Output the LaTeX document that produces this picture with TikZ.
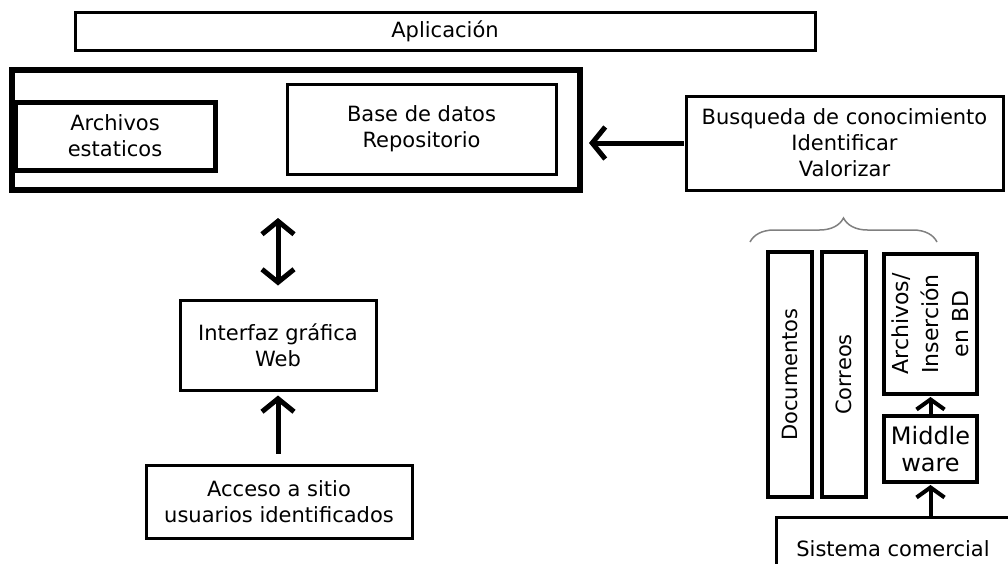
\documentclass[tikz,border=0pt]{standalone}
\usepackage{fontspec}
\setmainfont{DejaVu Sans}
\usetikzlibrary{arrows.meta,decorations.pathreplacing,calc}

\begin{document}
\begin{tikzpicture}[x=1pt,y=-1pt,
  every node/.style={align=center,inner sep=0pt,font=\fontsize{21}{26}\selectfont},
  box/.style={draw,line width=3pt},
  arr/.style={line width=5pt,-{Straight Barb[length=13pt,width=32pt]}},
  dblarr/.style={line width=5pt,{Straight Barb[length=13pt,width=32pt]}-{Straight Barb[length=13pt,width=32pt]}},
  smallarr/.style={line width=4pt,-{Straight Barb[length=10pt,width=28pt]}}]
  \useasboundingbox (0,0) rectangle (1008,563);
  \clip (0,0) rectangle (1008,563);
  % servidor
  \path (445,31) node[box,minimum width=740pt,minimum height=38pt] (app) {Aplicación}
  (296,130) node[draw,line width=6pt,minimum width=568pt,minimum height=120pt] (srv) {}
  (115,136) node[draw,line width=5pt,minimum width=200pt,minimum height=68pt] (est) {Archivos\\estaticos}
  (421.5,129) node[box,minimum width=269pt,minimum height=90pt] (bd) {Base de datos\\Repositorio};
  % usuarios
  \path (278,345) node[box,minimum width=196pt,minimum height=90pt] (ifz) {Interfaz gráfica\\Web}
  (279,501.5) node[box,minimum width=266pt,minimum height=73pt] (acc) {Acceso a sitio\\usuarios identificados};
  % fuentes de conocimiento
  \path (844.5,143) node[box,minimum width=317pt,minimum height=94pt] (busq) {Busqueda de conocimiento\\Identificar\\Valorizar}
  (790,374.5) node[box,line width=3.5pt,rotate=90,minimum width=245pt,minimum height=44pt] (doc) {Documentos}
  (844,374.5) node[box,line width=3.5pt,rotate=90,minimum width=245pt,minimum height=44pt] (cor) {Correos}
  (930.5,324) node[box,line width=4pt,rotate=90,minimum width=140pt,minimum height=93pt,font=\fontsize{22}{30}\selectfont] (ains) {Archivos/\\Inserción\\en BD}
  (930.5,449) node[box,line width=4pt,minimum width=93pt,minimum height=66pt,font=\fontsize{24}{27}\selectfont] (mw) {Middle\\ware}
  (893,549) node[box,minimum width=234pt,minimum height=64pt] (sis) {Sistema comercial};
  \draw[gray,line width=1.5pt,decorate,decoration={brace,amplitude=24pt}] (750,242) -- (937,242);
  % flechas
  \draw[arr,shorten <=1pt,shorten >=6pt] (busq.west) -- (busq.west -| srv.east);
  \draw[dblarr,shorten <=25pt,shorten >=13pt] (ifz.north |- srv.south) -- (ifz.north);
  \draw[arr,shorten <=10pt,shorten >=4pt] (ifz.south |- acc.north) -- (ifz.south);
  \draw[smallarr,shorten >=1pt] (mw.north) -- (ains.west);
  \draw[smallarr,shorten >=1pt] (mw.south |- sis.north) -- (mw.south);
\end{tikzpicture}
\end{document}
